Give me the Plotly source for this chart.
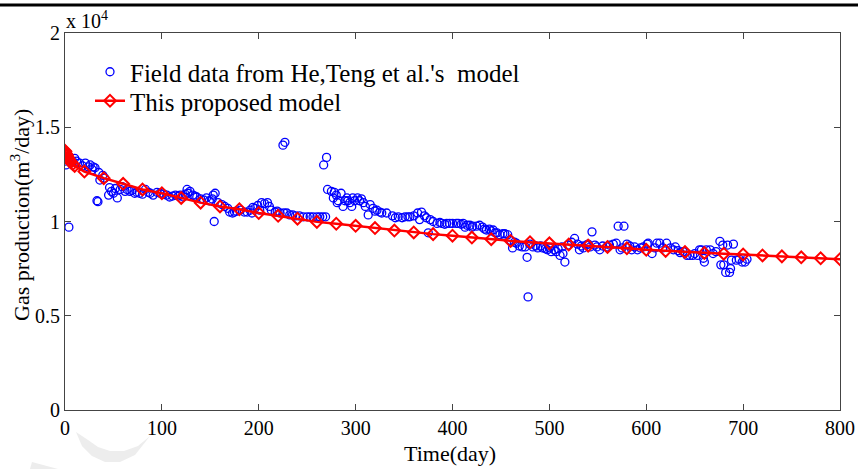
import plotly.graph_objects as go

# Field data (days, m3/day)
field_days = [0, 1, 2, 3, 4, 6, 8, 10, 12, 15, 18, 21, 24, 26, 28, 29, 31, 33, 34, 35,
              36, 39, 41, 45, 46, 48, 50, 52, 54, 57, 59, 62, 64, 67, 69, 72, 74, 77, 80, 83,
              86, 88, 91, 95, 98, 102, 105, 108, 111, 114, 117, 119, 122, 124, 126, 127, 129, 132, 134, 136,
              140, 143, 146, 149, 152, 153, 154, 155, 158, 162, 165, 168, 170, 173, 175, 177, 181, 185, 188, 191,
              193, 194, 196, 199, 201, 203, 206, 209, 211, 213, 217, 219, 222, 225, 226, 227, 229, 232, 235, 238,
              242, 246, 250, 253, 256, 260, 263, 266, 267, 269, 270, 271, 275, 277, 278, 280, 281, 282, 285, 287,
              289, 291, 292, 294, 296, 297, 299, 302, 304, 306, 308, 310, 313, 315, 318, 320, 322, 325, 327, 332,
              338, 341, 344, 348, 351, 354, 356, 360, 364, 366, 368, 371, 373, 375, 377, 380, 384, 387, 389, 392,
              394, 397, 400, 404, 406, 409, 411, 413, 415, 418, 420, 421, 425, 428, 431, 433, 435, 438, 440, 442,
              444, 446, 449, 452, 454, 457, 460, 462, 464, 466, 469, 472, 475, 477, 478, 480, 483, 486, 488, 491,
              493, 496, 498, 500, 502, 505, 507, 509, 511, 513, 514, 516, 519, 523, 526, 529, 531, 533, 535, 538,
              540, 542, 544, 547, 549, 552, 555, 559, 562, 566, 569, 571, 573, 575, 577, 580, 583, 585, 588, 591,
              594, 597, 601, 602, 606, 609, 611, 614, 617, 621, 625, 628, 630, 633, 635, 638, 642, 645, 648, 650,
              653, 655, 657, 659, 660, 662, 666, 669, 672, 676, 677, 679, 680, 682, 684, 686, 687, 688, 690, 693,
              696, 699, 702, 704]
field_vals = [13200, 13000, 13400, 13300, 9700, 13100, 13200, 13350, 13200, 13100, 12950, 13100, 12900, 13000, 12750, 12900, 12850, 11100, 11050, 12600,
              12200, 12450, 12300, 11400, 11800, 11600, 11500, 11750, 11250, 11700, 11850, 11600, 11700, 11600, 11650, 11500, 11550, 11500, 11450, 11700,
              11550, 11500, 11400, 11550, 11500, 11450, 11400, 11300, 11350, 11400, 11350, 11400, 11300, 11450, 11700, 11500, 11600, 11400, 11350, 11300,
              11200, 11150, 11250, 11100, 11200, 11400, 10000, 11500, 11000, 10900, 10800, 10700, 10500, 10450, 10500, 10550, 10600, 10500, 10500, 10600,
              10450, 10750, 10700, 10850, 10600, 11000, 10950, 11000, 10800, 10600, 10500, 10550, 10450, 14050, 10450, 14200, 10450, 10350, 10350, 10300,
              10300, 10250, 10250, 10250, 10250, 10250, 10250, 10250, 13000, 10250, 13400, 11700, 11600, 11250, 11550, 11400, 11000, 11100, 11500, 10800,
              11100, 11250, 11100, 11000, 10800, 11250, 11100, 11250, 11100, 11200, 11000, 10800, 10350, 10900, 10700, 10550, 10600, 10500, 10450, 10450,
              10300, 10200, 10250, 10200, 10250, 10250, 10250, 10300, 10450, 10100, 10500, 10300, 10200, 9400, 10100, 10000, 9900, 9950, 9900, 9850,
              9900, 9900, 9900, 9900, 9900, 9850, 9900, 9700, 9800, 9800, 9700, 9750, 9750, 9800, 9700, 9600, 9550, 9600, 9500, 9550,
              9400, 9400, 9300, 9350, 9350, 9300, 9000, 8600, 8900, 8850, 8700, 8650, 8650, 8100, 6000, 8800, 8650, 8700, 8600, 8700,
              8600, 8550, 8500, 8600, 8400, 8500, 8400, 8550, 8200, 8650, 8300, 7850, 8750, 8900, 9100, 8800, 8500, 8700, 8600, 8750,
              8800, 8650, 9450, 8750, 8650, 8500, 8700, 8650, 8750, 8800, 8850, 9750, 8500, 8600, 9750, 8800, 8700, 8500, 8650, 8500,
              8600, 8650, 8800, 8850, 8300, 8600, 8850, 8850, 8600, 8850, 8600, 8500, 8650, 8450, 8350, 8400, 8200, 8200, 8200, 8300,
              8200, 8500, 8500, 8050, 7850, 8500, 8500, 8300, 8400, 8950, 7700, 8750, 7700, 7300, 8750, 7300, 7500, 7950, 8800, 7950,
              8000, 7850, 7850, 8000]

# Proposed model (days, m3/day)
model_days = [0, 0.5, 1, 1.5, 2, 3, 4, 5, 6, 8, 10, 20, 40, 60, 80, 100, 120, 140, 160, 180,
              200, 220, 240, 260, 280, 300, 320, 340, 360, 380, 400, 420, 440, 460, 480, 500, 520, 540, 560, 580,
              600, 620, 640, 660, 680, 700, 720, 740, 760, 780, 800]
model_vals = [13750, 13700, 13600, 13550, 13500, 13400, 13300, 13200, 13150, 13050, 12950, 12650, 12300, 12000, 11700, 11500, 11250, 11000, 10800, 10650,
              10450, 10300, 10150, 9980, 9880, 9770, 9650, 9520, 9420, 9330, 9250, 9150, 9060, 8970, 8900, 8840, 8780, 8720, 8650, 8580,
              8500, 8440, 8380, 8330, 8290, 8250, 8200, 8150, 8100, 8050, 8000]

x_ticks = [0, 100, 200, 300, 400, 500, 600, 700, 800]
y_tickvals = [0, 5000, 10000, 15000, 20000]
y_ticktext = ["0", "0.5", "1", "1.5", "2"]

FONT = "Liberation Serif, Times New Roman, serif"

fig = go.Figure()
fig.add_trace(go.Scatter(
    x=field_days, y=field_vals, mode="markers",
    name="Field data from He,Teng et al.'s  model",
    marker=dict(symbol="circle-open", size=8, color="#0000ff", line=dict(width=1.3, color="#0000ff")),
    legend="legend",
))
fig.add_trace(go.Scatter(
    x=model_days, y=model_vals, mode="lines+markers",
    name="This proposed model",
    line=dict(color="#ff0000", width=2.5),
    marker=dict(symbol="diamond-open", size=9, color="#ff0000", line=dict(width=2, color="#ff0000")),
    legend="legend2",
))

W, H = 858, 469
L, R, T, B = 65, 18, 33, 59
pw, ph = W - L - R, H - T - B


def px(xp):
    return (xp - L) / pw


def py(yp):
    return (H - B - yp) / ph


def axis_style():
    return dict(
        showgrid=False, zeroline=False, showline=True, linecolor="#444444", linewidth=1,
        mirror="ticks", ticks="inside", ticklen=6, tickcolor="#444444", tickwidth=1,
        tickfont=dict(family=FONT, size=20, color="#000000"),
    )


legend_font = dict(family=FONT, size=25, color="#000000")

fig.update_layout(
    width=W, height=H,
    margin=dict(l=L, r=R, t=T, b=B, autoexpand=False),
    paper_bgcolor="white", plot_bgcolor="white",
    font=dict(family=FONT, color="#000000", size=20),
    xaxis=dict(range=[0, 800], tickvals=x_ticks, **axis_style()),
    yaxis=dict(range=[0, 20000], tickvals=y_tickvals, ticktext=y_ticktext, **axis_style()),
    legend=dict(
        x=px(90), y=py(72), xanchor="left", yanchor="middle",
        bgcolor="rgba(0,0,0,0)", borderwidth=0, font=legend_font, itemwidth=30,
    ),
    legend2=dict(
        x=px(90), y=py(101), xanchor="left", yanchor="middle",
        bgcolor="rgba(0,0,0,0)", borderwidth=0, font=legend_font, itemwidth=30,
    ),
    showlegend=True,
)

fig.add_annotation(text="Time(day)", x=px(450), y=py(453), xref="paper", yref="paper",
                   showarrow=False, font=dict(family=FONT, size=22), xanchor="center", yanchor="middle")
fig.add_annotation(text="Gas production(m<sup>3</sup>/day)", x=px(20), y=py(215), xref="paper", yref="paper",
                   showarrow=False, textangle=-90, font=dict(family=FONT, size=22),
                   xanchor="center", yanchor="middle")
fig.add_annotation(text="x 10<sup>4</sup>", x=px(64), y=py(20), xref="paper", yref="paper",
                   showarrow=False, font=dict(family=FONT, size=20), xanchor="left", yanchor="middle")

# page decorations: top rule and faint watermark stroke
fig.add_shape(type="line", xref="paper", yref="paper", x0=px(0), x1=px(W), y0=py(5), y1=py(5),
              line=dict(color="#000000", width=3))


def pth(pts):
    return "M " + " L ".join(f"{px(a):.4f},{py(b):.4f}" for a, b in pts) + " Z"


fig.add_shape(type="path", xref="paper", yref="paper",
              path=pth([(76, 432), (82, 446), (92, 456), (105, 462), (120, 462), (135, 455), (150, 436),
                        (138, 446), (124, 451), (110, 451), (98, 447), (88, 440)]),
              fillcolor="#ededed", line=dict(width=0), layer="below")
fig.add_shape(type="path", xref="paper", yref="paper",
              path=pth([(32, 462), (58, 469), (30, 469)]),
              fillcolor="#ededed", line=dict(width=0), layer="below")

fig.write_html("out.html")
